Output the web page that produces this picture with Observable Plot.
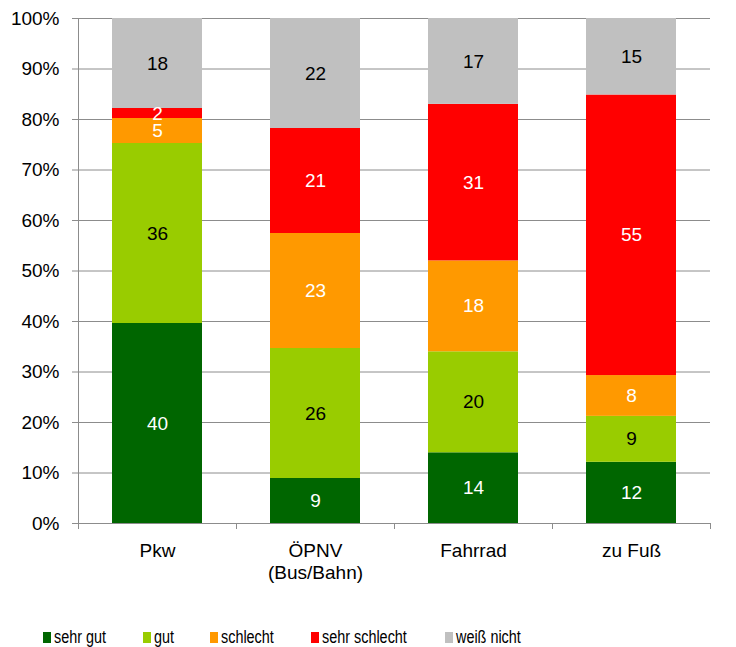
<!DOCTYPE html>
<html>
<head>
<meta charset="utf-8">
<script src="https://cdn.jsdelivr.net/npm/d3@7"></script>
<script src="https://cdn.jsdelivr.net/npm/@observablehq/plot@0.6"></script>
<style>
  html, body { margin: 0; padding: 0; background: #fff; }
  #wrap { position: relative; width: 736px; height: 647px; font-family: "Liberation Sans", Arial, sans-serif; }
  #legend { position: absolute; left: 0; top: 600px; width: 736px; height: 47px; }
  .sw { position: absolute; top: 32px; width: 8px; height: 11px; }
  .lt { position: absolute; top: 28px; font-size: 18px; line-height: 18px; color: #000; white-space: nowrap; transform: scaleX(0.8); transform-origin: left center; }
</style>
</head>
<body>
<div id="wrap"><div id="chart"></div><div id="legend"></div></div>
<script>
// ---- data ----
const categories = ["Pkw", "ÖPNV\n(Bus/Bahn)", "Fahrrad", "zu Fuß"];
const ratings = ["sehr gut", "gut", "schlecht", "sehr schlecht", "weiß nicht"];
const sehrGut      = [40,  9, 14, 12];
const gut          = [36, 26, 20,  9];
const schlecht     = [ 5, 23, 18,  8];
const sehrSchlecht = [ 2, 21, 31, 55];
const weissNicht   = [18, 22, 17, 15];
const yTicks = [0, 0.1, 0.2, 0.3, 0.4, 0.5, 0.6, 0.7, 0.8, 0.9, 1];

// ---- styles ----
const colors = ["#006600", "#99cc00", "#ff9900", "#ff0000", "#c0c0c0"];
const textColors = ["#ffffff", "#000000", "#ffffff", "#ffffff", "#000000"];
const legendLeft = [43, 143, 210, 311, 445];
const axisGray = "#8c8c8c";

const series = [sehrGut, gut, schlecht, sehrSchlecht, weissNicht];
const data = categories.flatMap((c, i) => ratings.map((r, j) => ({category: c, rating: r, value: series[j][i]})));
const colorOf = d => colors[ratings.indexOf(d.rating)];
const textColorOf = d => textColors[ratings.indexOf(d.rating)];

const stackOpts = {x: "category", y: "value", z: "rating", order: ratings, offset: "normalize"};
const half = 79;

const chart = Plot.plot({
  width: 736,
  height: 600,
  marginLeft: 78,
  marginRight: 26,
  marginTop: 18,
  marginBottom: 77,
  style: {fontFamily: "'Liberation Sans', Arial, sans-serif", fontSize: "19px", color: "#000", background: "#fff"},
  x: {domain: categories, paddingInner: 0.43, paddingOuter: 0.215, axis: null, label: null},
  y: {domain: [0, 1], axis: null, label: null},
  color: {type: "identity"},
  marks: [
    Plot.gridY({ticks: yTicks, stroke: axisGray, strokeOpacity: 1}),
    Plot.axisY({ticks: yTicks, label: null, tickFormat: d => Math.round(d * 100) + "%", tickSize: 6, tickPadding: 13, stroke: axisGray, fill: "#000"}),
    Plot.barY(data, Plot.stackY({...stackOpts, fill: colorOf})),
    Plot.text(data, Plot.stackY({...stackOpts, text: d => String(d.value), fill: textColorOf, fontSize: 19})),
    Plot.ruleY([0], {stroke: axisGray}),
    Plot.ruleX([categories[0]], {y1: 0, y2: 1, dx: -half, stroke: axisGray}),
    Plot.axisX({ticks: categories, label: null, tickSize: 6, text: null, dx: -half, stroke: axisGray}),
    Plot.axisX({ticks: [categories[categories.length - 1]], label: null, tickSize: 6, text: null, dx: half, stroke: axisGray}),
    Plot.axisX({ticks: categories, label: null, tickSize: 0, tickPadding: 18, lineHeight: 1.15, fill: "#000"})
  ]
});
document.getElementById("chart").appendChild(chart);

const legend = document.getElementById("legend");
ratings.forEach((r, i) => {
  const sw = document.createElement("div");
  sw.className = "sw";
  sw.style.left = legendLeft[i] + "px";
  sw.style.background = colors[i];
  legend.appendChild(sw);
  const t = document.createElement("div");
  t.className = "lt";
  t.style.left = (legendLeft[i] + 11) + "px";
  t.textContent = r;
  legend.appendChild(t);
});
</script>
</body>
</html>
